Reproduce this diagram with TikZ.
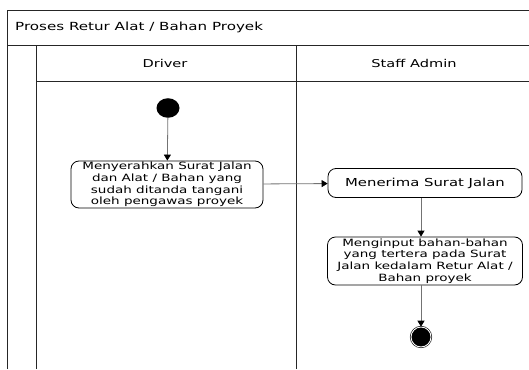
\documentclass[tikz,border=0pt]{standalone}
\usepackage{fontspec}
\setmainfont[FakeStretch=1.35]{DejaVu Sans}
\usetikzlibrary{shapes.geometric, arrows.meta, positioning}
\tikzstyle{lane} = [line width=0.9pt, draw=black!85]
\tikzstyle{header} = [font=\fontsize{10.8}{12}\selectfont, inner sep=0pt]
\tikzstyle{activity} = [rectangle, 
rounded corners=8pt, 
align=center, 
draw=black, 
line width=0.8pt, 
fill=white, 
inner sep=0pt, 
font=\fontsize{10}{11.6}\selectfont]
\tikzstyle{startnode} = [circle, 
fill=black, 
minimum width=23pt, 
inner sep=0pt]
\tikzstyle{endnode} = [circle, 
fill=black, 
draw=black, 
double=white, 
double distance=0.9pt, 
line width=0.6pt, 
minimum width=20pt, 
inner sep=0pt]
\tikzstyle{arrow} = [line width=0.8pt, draw=black!55, -{Triangle[black, length=6pt, width=7pt]}]

\begin{document}
\begin{tikzpicture}[x=1pt, y=1pt]
\useasboundingbox (0,0) rectangle (529,-369);

% Swimlanes
\draw [lane] (7,-369) -- (7,-10) -- (529,-10);
\draw [lane] (7,-45) -- (529,-45);
\draw [lane] (36,-369) -- (36,-45);
\draw [lane] (296,-369) -- (296,-45);
\draw [lane] (36,-81) -- (529,-81);

% Headers
\node (title) [header, font=\fontsize{11.2}{13}\selectfont, anchor=west] at (15,-27) {Proses Retur Alat / Bahan Proyek};
\node (driver) [header] at (165,-63) {Driver};
\node (staff) [header] at (414,-63) {Staff Admin};

% Nodes
\node (start) [startnode, yscale=0.85] at (168,-108) {};
\node (serah) [activity, minimum width=192pt, minimum height=47pt] at (167,-184.5) {Menyerahkan Surat Jalan\\dan Alat / Bahan yang\\sudah ditanda tangani\\oleh pengawas proyek};
\node (terima) [activity, minimum width=194pt, minimum height=29pt, font=\fontsize{11}{12}\selectfont] at (425,-183) {Menerima Surat Jalan};
\node (input) [activity, minimum width=195pt, minimum height=48pt] at (425,-261) {Menginput bahan-bahan\\yang tertera pada Surat\\Jalan kedalam Retur Alat /\\Bahan proyek};
\node (end) [endnode] at (421,-337) {};

% Arrows
\draw [arrow] (start) -- (serah);
\draw [arrow] (serah) -- (terima);
\draw [arrow] (terima.south -| end) -- (input.north -| end);
\draw [arrow] (input.south -| end) -- (end);

\end{tikzpicture}
\end{document}
